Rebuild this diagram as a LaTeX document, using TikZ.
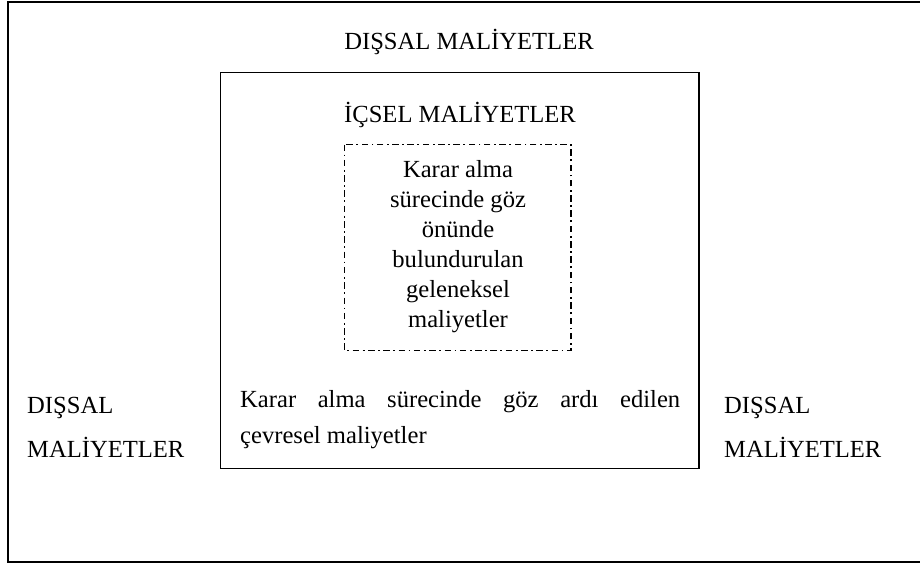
\documentclass[tikz,border=0pt]{standalone}
\usepackage{fontspec}
\setmainfont{Liberation Serif}
\begin{document}
\begin{tikzpicture}[x=1pt,y=-1pt,
  lbl/.style={inner sep=0pt, font=\fontsize{24.6}{30}\selectfont},
  solidbox/.style={draw=black, line width=1.6pt},
  dashbox/.style={draw=black, line width=1.4pt, dash pattern=on 6.5pt off 3.5pt on 1.8pt off 3.5pt}]
\useasboundingbox (0,0) rectangle (920,563);
% outer frame (right side lies beyond the picture)
\draw[line width=2pt] (925,1.5) -- (7.5,1.5) -- (7.5,561.5) -- (925,561.5);
% inner and dash-dot boxes
\draw[solidbox] (220.5,72.5) rectangle (699,468.5);
\draw[dashbox] (344.5,144.5) rectangle (571,350.5);
% labels
\node[lbl, anchor=base] (dtop) at (469,49) {DIŞSAL MALİYETLER};
\node[lbl, anchor=base] (icsel) at (460,122) {İÇSEL MALİYETLER};
\node[lbl, anchor=base, align=center, font=\fontsize{24.6}{30}\selectfont] (trad) at (458,327)
  {Karar alma\\sürecinde göz\\önünde\\bulundurulan\\geleneksel\\maliyetler};
\node[lbl, anchor=base west, text width=440pt, align=justify, font=\fontsize{24.6}{36}\selectfont] (env) at (240,407)
  {Karar alma sürecinde göz ardı edilen\linebreak çevresel maliyetler};
\node[lbl, anchor=base west] (dl1) at (27,413) {DIŞSAL};
\node[lbl, anchor=base west] (dl2) at (27,457) {MALİYETLER};
\node[lbl, anchor=base west] (dr1) at (724,413) {DIŞSAL};
\node[lbl, anchor=base west] (dr2) at (724,457) {MALİYETLER};
\end{tikzpicture}
\end{document}
